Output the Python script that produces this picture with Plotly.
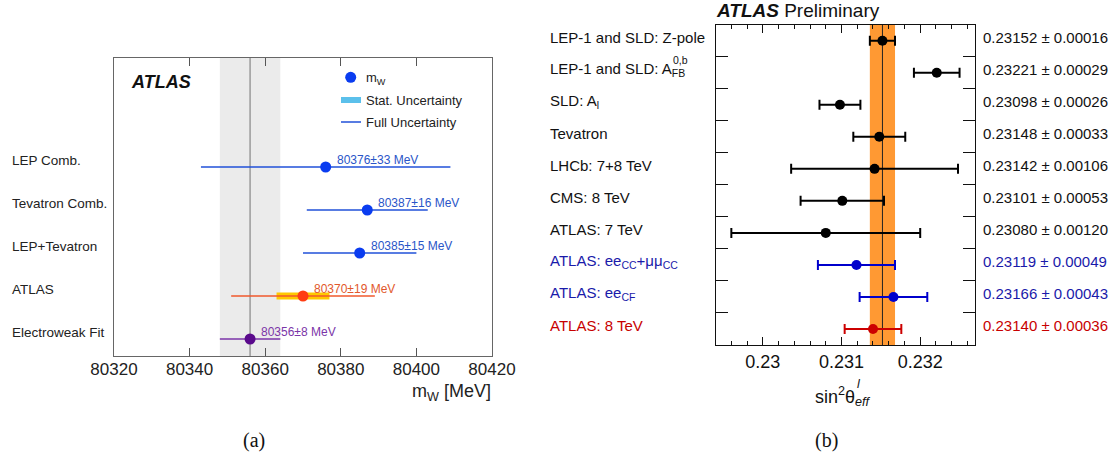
import plotly.graph_objects as go

W, H = 1120, 459

# ---------------- Panel (a): W mass ----------------
mw_labels = ["Electroweak Fit", "ATLAS", "LEP+Tevatron", "Tevatron Comb.", "LEP Comb."]
mw_values = [80356, 80370, 80385, 80387, 80376]
mw_errors = [8, 19, 15, 16, 33]
mw_stat_atlas = 7
mw_ticks = [80320, 80340, 80360, 80380, 80400, 80420]
mw_marker_colors = ["#5a0a8c", "#ff3c12", "#0a3cf0", "#0a3cf0", "#0a3cf0"]
mw_line_colors = ["#7b35a8", "#f0582c", "#2050d8", "#2050d8", "#2050d8"]
mw_text_colors = ["#7b35a8", "#e2582c", "#2a55c8", "#2a55c8", "#2a55c8"]

# ---------------- Panel (b): sin^2 theta_eff ----------------
s2w_labels = [
    "LEP-1 and SLD: Z-pole",
    "LEP-1 and SLD: A<sub>FB</sub>",
    "SLD: A<sub>l</sub>",
    "Tevatron",
    "LHCb: 7+8 TeV",
    "CMS: 8 TeV",
    "ATLAS: 7 TeV",
    "ATLAS: ee<sub>CC</sub>+μμ<sub>CC</sub>",
    "ATLAS: ee<sub>CF</sub>",
    "ATLAS: 8 TeV",
]
s2w_values = [0.23152, 0.23221, 0.23098, 0.23148, 0.23142, 0.23101, 0.23080, 0.23119, 0.23166, 0.23140]
s2w_errors = [0.00016, 0.00029, 0.00026, 0.00033, 0.00106, 0.00053, 0.00120, 0.00049, 0.00043, 0.00036]
s2w_ticks = [0.230, 0.231, 0.232]
s2w_tick_text = ["0.23", "0.231", "0.232"]
s2w_marker_colors = ["#000000"] * 7 + ["#0000cc", "#0000cc", "#cc0000"]
s2w_text_colors = ["#111111"] * 7 + ["#1a1aaa", "#1a1aaa", "#c80000"]

FONT = "Liberation Sans, Arial, Helvetica, sans-serif"


def px(x):
    return x / W


def py(y):
    return 1 - y / H


fig = go.Figure()

# ---- panel (a) traces ----
i_atlas = mw_labels.index("ATLAS")
fig.add_trace(go.Scatter(
    x=[mw_values[i_atlas]], y=[i_atlas], mode="markers",
    marker=dict(size=1, opacity=0),
    error_x=dict(type="data", array=[mw_stat_atlas], width=0, thickness=7, color="#ffc800"),
    xaxis="x", yaxis="y", showlegend=False, hoverinfo="skip"))

for i, (lab, v, e) in enumerate(zip(mw_labels, mw_values, mw_errors)):
    fig.add_trace(go.Scatter(
        x=[v], y=[i], mode="markers",
        marker=dict(size=11, color=mw_marker_colors[i]),
        error_x=dict(type="data", array=[e], width=0, thickness=1.5, color=mw_line_colors[i]),
        xaxis="x", yaxis="y", showlegend=False))

# ---- panel (b) traces ----
for i, (lab, v, e) in enumerate(zip(s2w_labels, s2w_values, s2w_errors)):
    fig.add_trace(go.Scatter(
        x=[v], y=[i], mode="markers",
        marker=dict(size=10, color=s2w_marker_colors[i]),
        error_x=dict(type="data", array=[e], width=5, thickness=2, color=s2w_marker_colors[i]),
        xaxis="x2", yaxis="y2", showlegend=False))

shapes = []
ew_v, ew_e = mw_values[0], mw_errors[0]
shapes.append(dict(type="rect", xref="x", yref="y domain", x0=ew_v - ew_e, x1=ew_v + ew_e, y0=0, y1=1,
                   fillcolor="#ebebeb", line=dict(width=0), layer="below"))
shapes.append(dict(type="line", xref="x", yref="y domain", x0=ew_v, x1=ew_v, y0=0, y1=1,
                   line=dict(color="#9a9a9a", width=1.5), layer="below"))
z_v, z_e = s2w_values[0], s2w_errors[0]
shapes.append(dict(type="rect", xref="x2", yref="y2 domain", x0=z_v - z_e, x1=z_v + z_e, y0=0, y1=1,
                   fillcolor="#ff9933", line=dict(width=0), layer="below"))
shapes.append(dict(type="line", xref="x2", yref="y2 domain", x0=z_v, x1=z_v, y0=0, y1=1,
                   line=dict(color="#222222", width=1), layer="below"))

# legend of panel (a), drawn by hand
shapes.append(dict(type="circle", xref="paper", yref="paper",
                   x0=px(345.2), x1=px(356.2), y0=py(82.8), y1=py(71.8),
                   fillcolor="#0a3cf0", line=dict(width=0)))
shapes.append(dict(type="rect", xref="paper", yref="paper",
                   x0=px(341), x1=px(361), y0=py(103), y1=py(97),
                   fillcolor="#5bc0eb", line=dict(width=0)))
shapes.append(dict(type="line", xref="paper", yref="paper",
                   x0=px(341), x1=px(361), y0=py(122), y1=py(122),
                   line=dict(color="#2050d8", width=1.5)))

annotations = []
legend_items = [("m<sub>W</sub>", 78), ("Stat. Uncertainty", 100), ("Full Uncertainty", 122)]
for txt, yy in legend_items:
    annotations.append(dict(text=txt, xref="paper", yref="paper", x=px(364), y=py(yy),
                            xanchor="left", yanchor="middle", showarrow=False,
                            font=dict(family=FONT, size=13, color="#222222")))

annotations.append(dict(text="<b><i>ATLAS</i></b>", xref="paper", yref="paper", x=px(129), y=py(82),
                        xanchor="left", yanchor="middle", showarrow=False,
                        font=dict(family=FONT, size=18, color="#111111")))

for i, (lab, v, e) in enumerate(zip(mw_labels, mw_values, mw_errors)):
    annotations.append(dict(text=lab, xref="paper", yref="y", x=px(10), y=i, yshift=7,
                            xanchor="left", yanchor="middle", showarrow=False,
                            font=dict(family=FONT, size=13.5, color="#222222")))
    annotations.append(dict(text=f"{v}±{e} MeV", xref="x", yref="y", x=v, y=i, xshift=9, yshift=7,
                            xanchor="left", yanchor="middle", showarrow=False,
                            font=dict(family=FONT, size=12, color=mw_text_colors[i])))

annotations.append(dict(text="m<sub>W</sub> [MeV]", xref="paper", yref="paper", x=px(493), y=py(392),
                        xanchor="right", yanchor="middle", showarrow=False,
                        font=dict(family=FONT, size=18, color="#222222")))
annotations.append(dict(text="(a)", xref="paper", yref="paper", x=px(254), y=py(440),
                        xanchor="center", yanchor="middle", showarrow=False,
                        font=dict(family="Liberation Serif, Times New Roman, serif", size=20, color="#111111")))

for i, (lab, v, e) in enumerate(zip(s2w_labels, s2w_values, s2w_errors)):
    annotations.append(dict(text=lab, xref="paper", yref="y2", x=px(548), y=i, yshift=3,
                            xanchor="left", yanchor="middle", showarrow=False,
                            font=dict(family=FONT, size=15, color=s2w_text_colors[i])))
    annotations.append(dict(text=f"{v:.5f} ± {e:.5f}", xref="paper", yref="y2", x=px(981), y=i, yshift=3,
                            xanchor="left", yanchor="middle", showarrow=False,
                            font=dict(family=FONT, size=15, color=s2w_text_colors[i])))
# superscript stacked above the "FB" subscript
annotations.append(dict(text="0,b", xref="paper", yref="y2", x=px(671), y=1, yshift=13,
                        xanchor="left", yanchor="middle", showarrow=False,
                        font=dict(family=FONT, size=10.5, color=s2w_text_colors[1])))

annotations.append(dict(text="<b><i>ATLAS</i></b> Preliminary", xref="paper", yref="paper", x=px(714), y=py(11),
                        xanchor="left", yanchor="middle", showarrow=False,
                        font=dict(family=FONT, size=19, color="#111111")))
annotations.append(dict(text="sin<sup>2</sup>θ<sub><i>eff</i></sub>", xref="paper", yref="paper",
                        x=px(813), y=py(396), xanchor="left", yanchor="middle", showarrow=False,
                        font=dict(family=FONT, size=18, color="#111111")))
annotations.append(dict(text="<i>l</i>", xref="paper", yref="paper",
                        x=px(855), y=py(384), xanchor="left", yanchor="middle", showarrow=False,
                        font=dict(family=FONT, size=12.6, color="#111111")))
annotations.append(dict(text="(b)", xref="paper", yref="paper", x=px(826), y=py(440),
                        xanchor="center", yanchor="middle", showarrow=False,
                        font=dict(family="Liberation Serif, Times New Roman, serif", size=20, color="#111111")))

fig.update_layout(
    width=W, height=H,
    margin=dict(l=0, r=0, t=0, b=0, autoexpand=False),
    paper_bgcolor="white", plot_bgcolor="white",
    showlegend=False,
    shapes=shapes,
    annotations=annotations,
    xaxis=dict(domain=[px(114), px(492)], range=[80320, 80420], tickvals=mw_ticks,
               ticktext=[str(t) for t in mw_ticks], ticklabelstandoff=-2,
               ticks="inside", ticklen=8, tickcolor="#555555", mirror="ticks", showline=True,
               linecolor="#666666", linewidth=1, showgrid=False, zeroline=False,
               tickfont=dict(family=FONT, size=17, color="#222222"), anchor="y"),
    yaxis=dict(domain=[py(356), py(58)], range=[-0.395, 6.535], showticklabels=False, ticks="",
               showline=True, mirror=True, linecolor="#666666", linewidth=1, showgrid=False,
               zeroline=False, anchor="x"),
    xaxis2=dict(domain=[px(715.6), px(975.3)], range=[0.2294, 0.2327], tickvals=s2w_ticks,
                ticktext=s2w_tick_text, ticks="inside", ticklen=8, tickcolor="#111111", mirror="ticks",
                minor=dict(tickmode="linear", tick0=0.23, dtick=0.0002, ticks="inside", ticklen=4,
                           tickcolor="#111111"),
                showline=True, linecolor="#111111", linewidth=1, showgrid=False, zeroline=False,
                tickfont=dict(family=FONT, size=18, color="#111111"), anchor="y2"),
    yaxis2=dict(domain=[py(345), py(24.7)], range=[9.5, -0.5], tickvals=[k + 0.5 for k in range(9)],
                showticklabels=False, ticks="inside", ticklen=12, tickcolor="#111111", mirror="ticks",
                showline=True, linecolor="#111111", linewidth=1, showgrid=False, zeroline=False,
                anchor="x2"),
)

fig.write_html("out.html")
